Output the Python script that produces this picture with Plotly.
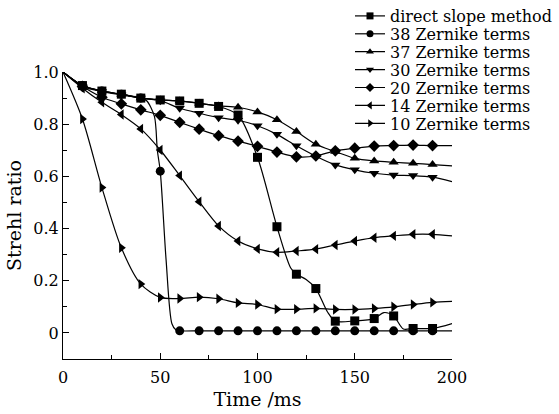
import plotly.graph_objects as go

# ---- data ----
series_names = ["direct slope method", "38 Zernike terms", "37 Zernike terms",
                "30 Zernike terms", "20 Zernike terms", "14 Zernike terms",
                "10 Zernike terms"]
series_symbols = ["square", "circle", "triangle-up", "triangle-down",
                  "diamond", "triangle-left", "triangle-right"]

time_base = [0, 10, 20, 30, 40, 50, 60, 70, 80, 90, 100, 110, 120, 130, 140,
             150, 160, 170, 180, 190, 200]

direct_t = [0, 10, 20, 30, 40, 50, 60, 70, 80, 90, 100, 110, 117, 120, 125,
            130, 136, 140, 150, 160, 165, 170, 175, 180, 190, 200]
direct_v = [1.0, 0.948, 0.927, 0.915, 0.900, 0.893, 0.889, 0.880, 0.868, 0.835,
            0.673, 0.407, 0.250, 0.225, 0.205, 0.170, 0.080, 0.045, 0.046,
            0.055, 0.078, 0.065, 0.015, 0.017, 0.017, 0.036]

z38_t = [0, 10, 20, 30, 40, 43, 47, 48.5, 50, 53, 56, 58, 60, 70, 80, 90, 100,
         110, 120, 130, 140, 150, 160, 170, 180, 190, 200]
z38_v = [1.0, 0.948, 0.927, 0.915, 0.900, 0.890, 0.830, 0.700, 0.620, 0.280,
         0.035, 0.012, 0.008, 0.008, 0.008, 0.008, 0.008, 0.008, 0.008, 0.008,
         0.008, 0.008, 0.008, 0.008, 0.008, 0.008, 0.008]

z37_v = [1.0, 0.948, 0.927, 0.915, 0.900, 0.893, 0.889, 0.880, 0.870, 0.865,
         0.847, 0.817, 0.772, 0.723, 0.695, 0.669, 0.659, 0.654, 0.650, 0.645,
         0.640]
z30_v = [1.0, 0.945, 0.925, 0.912, 0.900, 0.890, 0.861, 0.842, 0.825, 0.815,
         0.794, 0.761, 0.717, 0.677, 0.644, 0.625, 0.612, 0.605, 0.603, 0.597,
         0.580]
z20_v = [1.0, 0.945, 0.903, 0.878, 0.855, 0.834, 0.807, 0.781, 0.756, 0.735,
         0.715, 0.693, 0.675, 0.678, 0.698, 0.708, 0.716, 0.718, 0.720, 0.718,
         0.718]
z14_v = [1.0, 0.938, 0.884, 0.837, 0.782, 0.701, 0.603, 0.503, 0.410, 0.352,
         0.322, 0.309, 0.314, 0.321, 0.337, 0.352, 0.365, 0.372, 0.378, 0.378,
         0.372]
z10_v = [1.0, 0.820, 0.557, 0.326, 0.187, 0.136, 0.132, 0.137, 0.131, 0.115,
         0.109, 0.091, 0.091, 0.094, 0.090, 0.090, 0.094, 0.100, 0.109, 0.117,
         0.121]

marker_times = [10, 20, 30, 40, 50, 60, 70, 80, 90, 100, 110, 120, 130, 140,
                150, 160, 170, 180, 190]

x_tickvals = [0, 50, 100, 150, 200]
y_tickvals = [0, 0.2, 0.4, 0.6, 0.8, 1.0]
y_ticktext = ["0", "0.2", "0.4", "0.6", "0.8", "1.0"]

series_t = [direct_t, z38_t, time_base, time_base, time_base, time_base, time_base]
series_v = [direct_v, z38_v, z37_v, z30_v, z20_v, z14_v, z10_v]

FONT = "DejaVu Serif"
# plot area geometry (pixels) used to place the legend rows
W, H = 559, 414
ML, MR, MT, MB = 63, 107, 72, 55
plot_h = H - MT - MB
plot_w = W - ML - MR
legend_x_px = 350
legend_row0_px = 16
legend_step_px = 17.9

fig = go.Figure()
layout_legends = {}
for i, (name, sym, ts, vs) in enumerate(zip(series_names, series_symbols,
                                            series_t, series_v)):
    fig.add_trace(go.Scatter(x=ts, y=vs, mode="lines", showlegend=False,
                             line=dict(color="black", width=1.2, shape="spline",
                                       smoothing=0.8),
                             cliponaxis=False, hoverinfo="skip"))
    mx = [t for t in ts if t in marker_times]
    my = [v for t, v in zip(ts, vs) if t in marker_times]
    fig.add_trace(go.Scatter(x=mx, y=my, mode="markers", showlegend=False,
                             marker=dict(symbol=sym, size=9, color="black"),
                             cliponaxis=False))
    lg = "legend" if i == 0 else f"legend{i + 1}"
    fig.add_trace(go.Scatter(x=[None], y=[None], mode="lines+markers", name=name,
                             legend=lg,
                             line=dict(color="black", width=1.2),
                             marker=dict(symbol=sym, size=7, color="black")))
    ypx = legend_row0_px + i * legend_step_px
    layout_legends[lg] = dict(
        x=(legend_x_px - ML) / plot_w, y=(H - MB - ypx) / plot_h,
        xanchor="left", yanchor="middle", bgcolor="rgba(0,0,0,0)",
        itemwidth=30, borderwidth=0,
        font=dict(family=FONT, size=16, color="black"))

fig.update_layout(
    width=W, height=H,
    margin=dict(l=ML, r=MR, t=MT, b=MB, autoexpand=False),
    paper_bgcolor="white", plot_bgcolor="white",
    font=dict(family=FONT, size=16, color="black"),
    showlegend=True,
    xaxis=dict(range=[0, 200], tickvals=x_tickvals, ticks="inside", ticklen=6,
               showline=True, linecolor="black", linewidth=1.2, tickcolor="black",
               showgrid=False, zeroline=False, ticklabelstandoff=4,
               minor=dict(dtick=25, ticks="inside", ticklen=4, tickcolor="black"),
               title=dict(text="Time /ms", standoff=6),
               tickfont=dict(size=16)),
    yaxis=dict(range=[-0.1, 1.0], tickvals=y_tickvals, ticktext=y_ticktext,
               ticks="inside", ticklen=6,
               showline=True, linecolor="black", linewidth=1.2, tickcolor="black",
               showgrid=False, zeroline=False,
               minor=dict(tickvals=[0.1, 0.3, 0.5, 0.7, 0.9, -0.1], ticks="inside",
                          ticklen=4, tickcolor="black"),
               title=dict(text="Strehl ratio", standoff=6),
               tickfont=dict(size=16)),
    **layout_legends,
)
fig.write_html("out.html")
